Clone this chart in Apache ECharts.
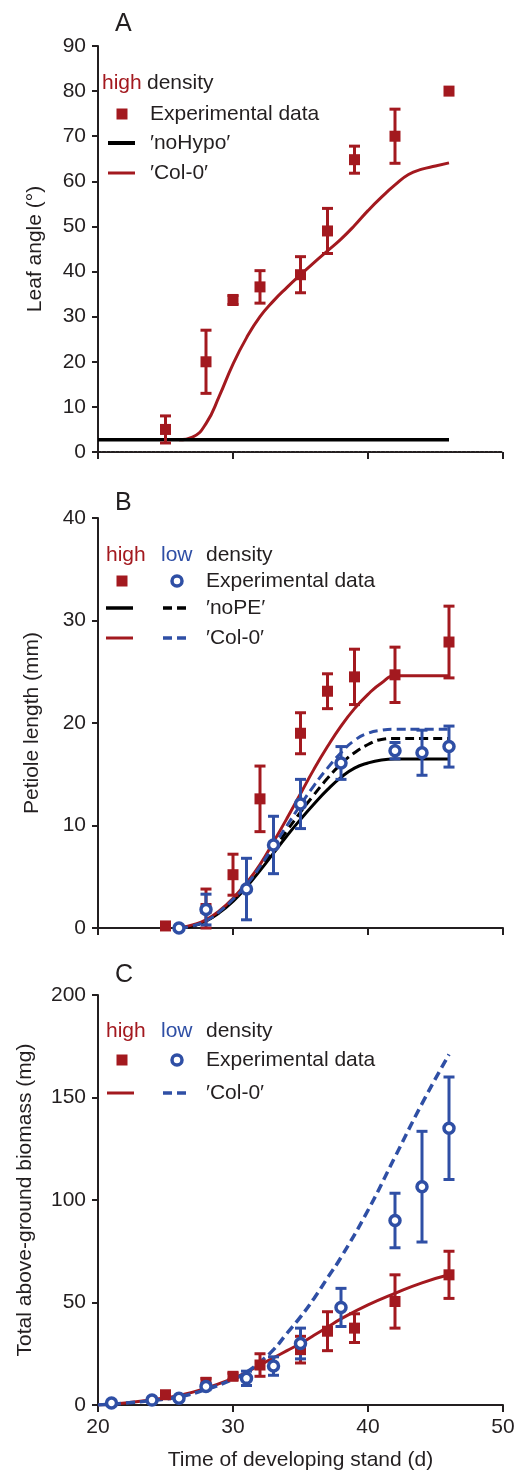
<!DOCTYPE html>
<html>
<head>
<meta charset="utf-8">
<style>
  html, body { margin: 0; padding: 0; background: #fff; }
  #chart { width: 525px; height: 1472px; }
</style>
<script src="https://cdn.jsdelivr.net/npm/echarts@6/dist/echarts.min.js"></script>
</head>
<body>
<div id="chart"></div>
<script>
const RED = "#a3191f";
const BLUE = "#2f4fa5";
const INK = "#231f20";
const FONT = "'Liberation Sans', Arial, Helvetica, sans-serif";

// days of the measurements
const daysHigh = [25, 28, 30, 32, 35, 37, 39, 42, 46];
const daysLowB = [26, 28, 31, 33, 35, 38, 42, 44, 46];
const daysLowC = [21, 24, 26, 28, 31, 33, 35, 38, 42, 44, 46];

// A: leaf angle, high density
const angleHigh = [5, 20, 33.7, 36.6, 39.3, 49, 64.8, 70, 80];
const angleHighErr = [3, 7, 1, 3.6, 4, 5, 3, 6, 0];
const noHypoDays = [20, 46];
const noHypoAngle = [2.7, 2.7];
const colDaysA = [26, 27, 28, 29, 30, 31, 32, 33, 34, 35, 36, 37, 38, 39, 40, 41, 42, 43, 44, 45, 46];
const colAngle = [2.7, 3.3, 6.3, 12.5, 19.5, 25.3, 30, 33.5, 36.5, 39.3, 42, 44.6, 47.2, 50.2, 53.5, 56.5, 59.2, 61.5, 62.7, 63.4, 64.1];

// B: petiole length
const petioleHigh = [0.2, 1.9, 5.2, 12.6, 19, 23.1, 24.5, 24.7, 27.9];
const petioleHighErr = [0, 1.9, 2, 3.2, 2, 1.7, 2.7, 2.7, 3.5];
const petioleLow = [0, 1.8, 3.8, 8.1, 12.1, 16.1, 17.3, 17.1, 17.7];
const petioleLowErr = [0, 1.5, 3, 2.8, 2.4, 1.6, 0.8, 2.2, 2];
const modelDaysB = [26, 27, 28, 29, 30, 31, 32, 33, 34, 35, 36, 37, 38, 39, 40, 41, 42, 44, 46];
const noPEHigh = [0, 0.2, 0.7, 1.5, 2.6, 4, 5.6, 7.3, 9, 10.6, 12.1, 13.5, 14.7, 15.6, 16.1, 16.4, 16.5, 16.5, 16.5];
const noPELow = [0, 0.2, 0.7, 1.6, 2.7, 4.1, 5.8, 7.6, 9.5, 11.3, 13, 14.6, 16, 17.1, 17.9, 18.4, 18.5, 18.5, 18.5];
const colHighB = [0, 0.3, 0.8, 1.7, 2.9, 4.4, 6.2, 8.4, 10.7, 13.1, 15.5, 17.7, 19.7, 21.4, 22.8, 23.9, 24.6, 24.6, 24.6];
const colLowB = [0, 0.2, 0.7, 1.6, 2.8, 4.2, 6, 8, 10, 12, 13.9, 15.6, 17.1, 18.3, 19, 19.3, 19.4, 19.4, 19.4];

// C: total above-ground biomass
const biomassHigh = [5, 11, 14, 19.5, 27, 36, 37.5, 50.5, 63.5];
const biomassHighErr = [1, 2, 1.5, 5.5, 6.5, 9.5, 7, 13, 11.5];
const biomassLow = [1, 2.4, 3.3, 9, 13, 19, 30, 47.6, 90, 106.5, 135];
const biomassLowErr = [0.5, 0.5, 0.8, 1.5, 3.5, 4.5, 7.5, 9.3, 13.3, 27, 25];
const modelDaysC = [20, 22, 24, 26, 28, 30, 31, 32, 33, 34, 35, 36, 37, 38, 40, 42, 44, 46];
const colHighC = [0, 1, 2.6, 4.6, 8.2, 13, 16, 19.5, 23, 26.5, 30, 34, 38, 42, 48.8, 54.5, 59.6, 63.5];
const colLowC = [0, 0.9, 2.2, 4, 7.6, 12.5, 16, 21, 27, 35, 43, 52, 62, 72, 95, 121, 147, 171];

function zip(xs, ys) {
  return xs.map((x, i) => [x, ys[i]]);
}

function errRows(xs, ys, es) {
  const rows = [];
  xs.forEach((x, i) => {
    if (es[i] > 0) rows.push([x, ys[i] - es[i], ys[i] + es[i]]);
  });
  return rows;
}

function lineSeries(idx, xs, ys, color, dashed, width) {
  return {
    type: "line",
    xAxisIndex: idx,
    yAxisIndex: idx,
    data: zip(xs, ys),
    symbol: "none",
    smooth: 0.5,
    lineStyle: { color: color, width: width || 3, type: dashed ? [9, 5] : "solid" },
    z: 2,
  };
}

function errSeries(idx, xs, ys, es, color) {
  return {
    type: "custom",
    xAxisIndex: idx,
    yAxisIndex: idx,
    data: errRows(xs, ys, es),
    encode: { x: 0, y: [1, 2] },
    z: 3,
    renderItem: function (params, api) {
      const x = api.value(0);
      const lo = api.coord([x, api.value(1)]);
      const hi = api.coord([x, api.value(2)]);
      const cap = 5.5;
      const st = { stroke: color, lineWidth: 3 };
      return {
        type: "group",
        children: [
          { type: "line", shape: { x1: lo[0], y1: lo[1], x2: hi[0], y2: hi[1] }, style: st },
          { type: "line", shape: { x1: lo[0] - cap, y1: lo[1], x2: lo[0] + cap, y2: lo[1] }, style: st },
          { type: "line", shape: { x1: hi[0] - cap, y1: hi[1], x2: hi[0] + cap, y2: hi[1] }, style: st },
        ],
      };
    },
  };
}

function squares(idx, xs, ys) {
  return {
    type: "scatter",
    xAxisIndex: idx,
    yAxisIndex: idx,
    data: zip(xs, ys),
    symbol: "rect",
    symbolSize: 11,
    itemStyle: { color: RED, opacity: 1 },
    z: 4,
  };
}

function rings(idx, xs, ys) {
  return {
    type: "scatter",
    xAxisIndex: idx,
    yAxisIndex: idx,
    data: zip(xs, ys),
    symbol: "circle",
    symbolSize: 10,
    itemStyle: { color: "#fff", borderColor: BLUE, borderWidth: 3.5, opacity: 1 },
    z: 5,
  };
}

function yAxis(idx, max, interval, name, gap) {
  return {
    gridIndex: idx,
    type: "value",
    min: 0,
    max: max,
    interval: interval,
    axisLine: { show: true, lineStyle: { color: INK, width: 2 } },
    axisTick: { show: true, length: 6, lineStyle: { color: INK, width: 2 } },
    axisLabel: { color: INK, fontSize: 21, fontFamily: FONT, margin: 12 },
    splitLine: { show: false },
    name: name,
    nameLocation: "middle",
    nameGap: gap,
    nameTextStyle: { color: INK, fontSize: 21, fontFamily: FONT },
  };
}

function xAxis(idx, showLabels, dotted) {
  const ax = {
    gridIndex: idx,
    type: "value",
    min: 20,
    max: 50,
    interval: 10,
    axisLine: { onZero: false, lineStyle: { color: INK, width: 2, type: dotted ? [3, 1.5] : "solid" } },
    axisTick: { show: true, length: 7, lineStyle: { color: INK, width: 2, type: "solid" } },
    axisLabel: { show: showLabels, color: INK, fontSize: 21, fontFamily: FONT, margin: 12 },
    splitLine: { show: false },
  };
  if (showLabels) {
    ax.name = "Time of developing stand (d)";
    ax.nameLocation = "middle";
    ax.nameGap = 45;
    ax.nameTextStyle = { color: INK, fontSize: 21, fontFamily: FONT };
  }
  return ax;
}

function txt(x, y, s, color, size) {
  return {
    type: "text",
    x: x,
    y: y,
    style: { text: s, fill: color || INK, font: (size || 21) + "px " + FONT, verticalAlign: "middle" },
  };
}

function seg(x1, x2, y, color, dashed, width) {
  return {
    type: "line",
    shape: { x1: x1, y1: y, x2: x2, y2: y },
    style: { stroke: color, lineWidth: width || 3, lineDash: dashed ? [9, 5] : null },
  };
}

function sq(cx, cy) {
  return { type: "rect", shape: { x: cx - 5.5, y: cy - 5.5, width: 11, height: 11 }, style: { fill: RED } };
}

function ring(cx, cy) {
  return { type: "circle", shape: { cx: cx, cy: cy, r: 5 }, style: { fill: "#fff", stroke: BLUE, lineWidth: 3.5 } };
}

const graphics = [
  txt(115, 24, "A", INK, 25),
  txt(115, 503, "B", INK, 25),
  txt(115, 975, "C", INK, 25),
  // legend A
  txt(102, 83, "high", RED),
  txt(147, 83, "density"),
  sq(122, 114),
  txt(150, 114, "Experimental data"),
  seg(108, 135, 143, "#000", false, 4),
  txt(150, 143, "\u2032noHypo\u2032"),
  seg(108, 135, 173, RED, false, 3),
  txt(150, 173, "\u2032Col-0\u2032"),
  // legend B
  txt(106, 555, "high", RED),
  txt(161, 555, "low", BLUE),
  txt(206, 555, "density"),
  sq(122, 581),
  ring(177, 581),
  txt(206, 581, "Experimental data"),
  seg(106, 133, 608, "#000", false, 3.5),
  seg(163, 190, 608, "#000", true, 3.5),
  txt(206, 608, "\u2032noPE\u2032"),
  seg(106, 133, 638, RED, false, 3),
  seg(163, 190, 638, BLUE, true, 3.5),
  txt(206, 638, "\u2032Col-0\u2032"),
  // legend C
  txt(106, 1031, "high", RED),
  txt(161, 1031, "low", BLUE),
  txt(206, 1031, "density"),
  sq(122, 1060),
  ring(177, 1060),
  txt(206, 1060, "Experimental data"),
  seg(107, 134, 1093, RED, false, 3),
  seg(163, 190, 1093, BLUE, true, 3.5),
  txt(206, 1093, "\u2032Col-0\u2032"),
];

const chart = echarts.init(document.getElementById("chart"));
chart.setOption({
  animation: false,
  backgroundColor: "#fff",
  grid: [
    { left: 98, right: 22, top: 46, height: 406 },
    { left: 98, right: 22, top: 518, height: 410 },
    { left: 98, right: 22, top: 995, height: 410 },
  ],
  xAxis: [xAxis(0, false, true), xAxis(1, false, false), xAxis(2, true, false)],
  yAxis: [
    yAxis(0, 90, 10, "Leaf angle (\u00b0)", 52),
    yAxis(1, 40, 10, "Petiole length (mm)", 55),
    yAxis(2, 200, 50, "Total above-ground biomass (mg)", 62),
  ],
  graphic: graphics,
  series: [
    // A
    lineSeries(0, colDaysA, colAngle, RED, false, 3),
    lineSeries(0, noHypoDays, noHypoAngle, "#000", false, 3.5),
    errSeries(0, daysHigh, angleHigh, angleHighErr, RED),
    squares(0, daysHigh, angleHigh),
    // B
    lineSeries(1, modelDaysB, noPEHigh, "#000", false, 3),
    lineSeries(1, modelDaysB, noPELow, "#000", true, 3),
    lineSeries(1, modelDaysB, colHighB, RED, false, 3),
    lineSeries(1, modelDaysB, colLowB, BLUE, true, 3),
    errSeries(1, daysHigh, petioleHigh, petioleHighErr, RED),
    squares(1, daysHigh, petioleHigh),
    errSeries(1, daysLowB, petioleLow, petioleLowErr, BLUE),
    rings(1, daysLowB, petioleLow),
    // C
    lineSeries(2, modelDaysC, colHighC, RED, false, 3),
    lineSeries(2, modelDaysC, colLowC, BLUE, true, 3.5),
    errSeries(2, daysHigh, biomassHigh, biomassHighErr, RED),
    squares(2, daysHigh, biomassHigh),
    errSeries(2, daysLowC, biomassLow, biomassLowErr, BLUE),
    rings(2, daysLowC, biomassLow),
  ],
});
</script>
</body>
</html>
